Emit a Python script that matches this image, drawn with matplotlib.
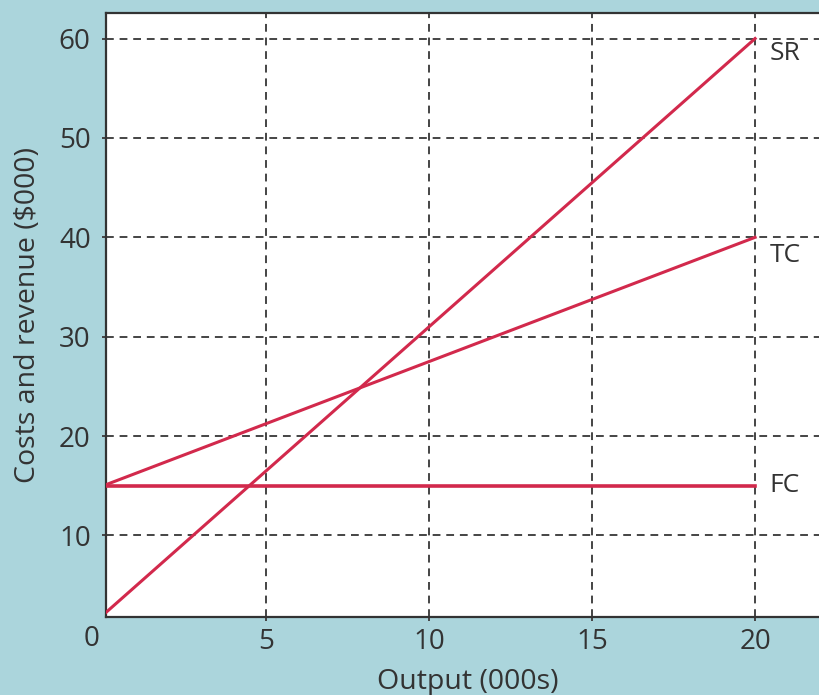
import matplotlib.pyplot as plt
import numpy as np

# values
output = [0, 20]
sr = [2, 60]
tc = [15, 40]
fc = [15, 15]
names = ['SR', 'TC', 'FC']
xticks = [5, 10, 15, 20]
yticks = [10, 20, 30, 40, 50, 60]

bg = '#abd5dc'
red = '#d2294c'
txt = '#333333'

plt.rcParams['font.family'] = ['Open Sans', 'DejaVu Sans']

fig = plt.figure(figsize=(8.19, 6.95), dpi=100, facecolor=bg)
ax = fig.add_axes([106/819, 78/695, 713/819, 604.3/695])
ax.set_facecolor('white')

ax.plot(output, sr, color=red, lw=2.2, zorder=3)
ax.plot(output, tc, color=red, lw=2.2, zorder=3)
ax.plot(output, fc, color=red, lw=2.6, zorder=3)

# end labels, nudged down a little like the original
nudge = [-1.5, -1.8, 0]
for name, yv, dy in zip(names, [sr[-1], tc[-1], fc[-1]], nudge):
    ax.text(20.45, yv + dy, name, color=txt, fontsize=19, ha='left', va='center')

ax.set_xlim(0.09, 21.96)
ax.set_ylim(1.8, 62.6)
ax.set_xticks(xticks)
ax.set_yticks(yticks)
ax.tick_params(length=3, width=1.4, color='#444444', labelsize=20, colors=txt)
ax.tick_params(axis='x', pad=5)
ax.tick_params(axis='y', pad=8)
ax.grid(True, ls=(0, (4, 3)), color='#444444', lw=1.4)
ax.set_axisbelow(True)

for s in ax.spines.values():
    s.set_color('#333333')
    s.set_linewidth(1.6)
ax.spines['right'].set_visible(False)

ax.text(-0.35, 1.0, '0', color=txt, fontsize=20, ha='center', va='top',
        transform=ax.transData)

ax.set_xlabel('Output (000s)', fontsize=20.5, color=txt)
ax.set_ylabel('Costs and revenue ($000)', fontsize=20.5, color=txt)
ax.xaxis.set_label_coords(0.508, -0.085)
ax.yaxis.set_label_coords(-0.09, 0.5)

fig.savefig('out.png', dpi=100, facecolor=bg)
